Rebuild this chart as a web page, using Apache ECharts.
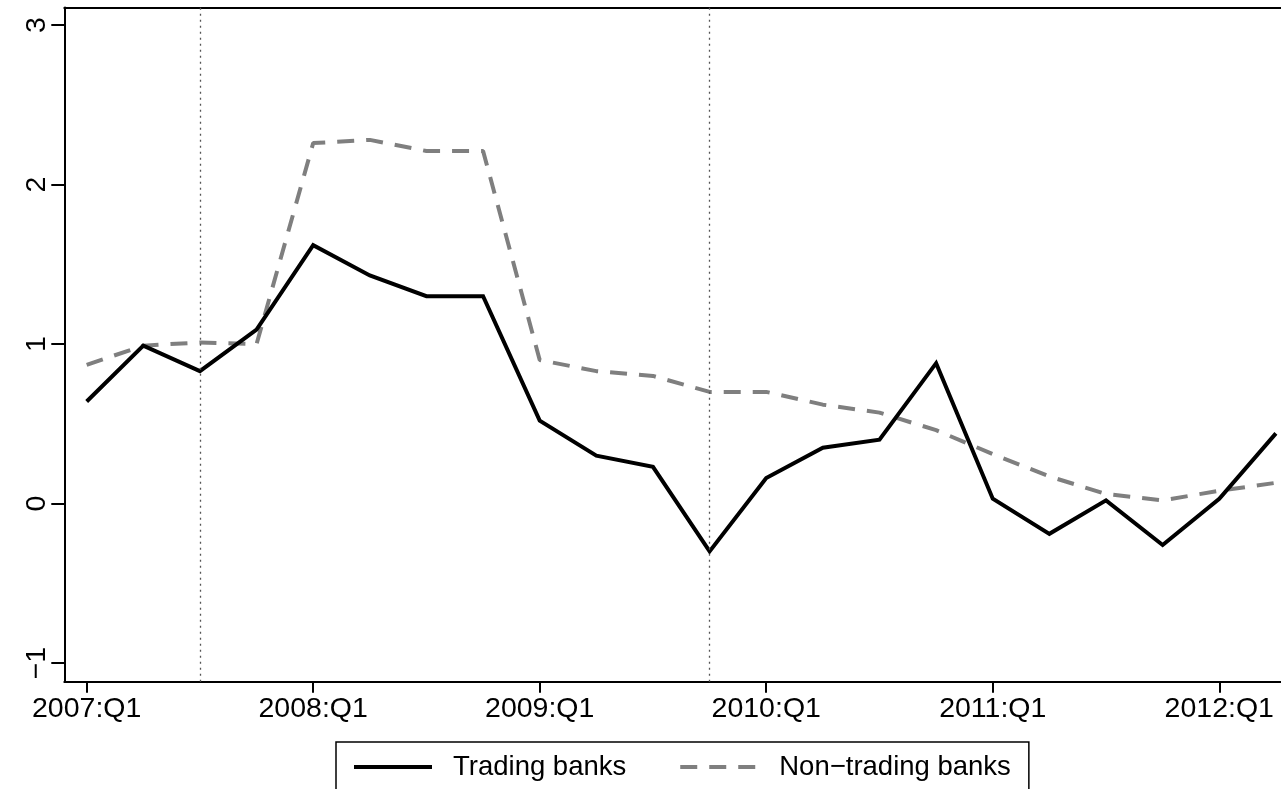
<!DOCTYPE html>
<html>
<head>
<meta charset="utf-8">
<script src="https://cdn.jsdelivr.net/npm/echarts@6/dist/echarts.min.js"></script>
<style>
html,body{margin:0;padding:0;background:#fff;}
#chart{width:1281px;height:789px;}
</style>
</head>
<body>
<div id="chart"></div>
<script>
const quarters = ['2007:Q1','2007:Q2','2007:Q3','2007:Q4','2008:Q1','2008:Q2','2008:Q3','2008:Q4',
  '2009:Q1','2009:Q2','2009:Q3','2009:Q4','2010:Q1','2010:Q2','2010:Q3','2010:Q4',
  '2011:Q1','2011:Q2','2011:Q3','2011:Q4','2012:Q1','2012:Q2'];
const tradingBanks = [0.64, 0.99, 0.83, 1.09, 1.62, 1.43, 1.30, 1.30,
  0.52, 0.30, 0.23, -0.30, 0.16, 0.35, 0.40, 0.88,
  0.03, -0.19, 0.02, -0.26, 0.03, 0.44];
const nonTradingBanks = [0.87, 0.99, 1.01, 1.00, 2.26, 2.28, 2.21, 2.21,
  0.90, 0.83, 0.80, 0.70, 0.70, 0.62, 0.57, 0.46,
  0.31, 0.17, 0.06, 0.02, 0.08, 0.13];
const xTickQuarters = ['2007:Q1','2008:Q1','2009:Q1','2010:Q1','2011:Q1','2012:Q1'];
const yTicks = [-1, 0, 1, 2, 3];
const eventQuarters = ['2007:Q3','2009:Q4'];
const seriesNames = ['Trading banks', 'Non\u2212trading banks'];

const FONT = "'Liberation Sans', Arial, Helvetica, sans-serif";
const BLACK_STYLE = {color: '#000', width: 4, type: 'solid'};
const GRAY_STYLE = {color: '#7f7f7f', width: 4, type: [17, 12]};
const xTickIdx = xTickQuarters.map(q => quarters.indexOf(q));
const toPairs = arr => arr.map((v, i) => [i, v]);

const chart = echarts.init(document.getElementById('chart'), null, {renderer: 'canvas'});
chart.setOption({
  animation: false,
  backgroundColor: '#fff',
  grid: {left: 64.3, top: 7.5, height: 674.2, right: 0, show: false},
  xAxis: [{
    type: 'value', min: -0.395, max: 21.09,
    splitLine: {show: false},
    axisLine: {show: true, onZero: false, lineStyle: {color: '#000', width: 2}},
    axisTick: {show: true, length: 11, lineStyle: {color: '#000', width: 2}, customValues: xTickIdx},
    axisLabel: {
      show: true, customValues: xTickIdx, margin: 13,
      color: '#000', fontFamily: FONT, fontSize: 28.5,
      formatter: v => quarters[Math.round(v)]
    }
  }, {
    type: 'value', position: 'top', min: -0.395, max: 21.09,
    splitLine: {show: false},
    axisLine: {show: true, onZero: false, lineStyle: {color: '#000', width: 2}},
    axisTick: {show: false}, axisLabel: {show: false}
  }],
  yAxis: {
    type: 'value', min: -1.117, max: 3.11,
    splitLine: {show: false},
    axisLine: {show: true, onZero: false, lineStyle: {color: '#000', width: 2}},
    axisTick: {show: true, length: 13, lineStyle: {color: '#000', width: 2}, customValues: yTicks},
    axisLabel: {
      show: true, customValues: yTicks, rotate: 90, margin: 13,
      color: '#000', fontFamily: FONT, fontSize: 28.5,
      formatter: v => String(v).replace('-', '\u2212')
    }
  },
  legend: {
    left: 336, top: 742,
    orient: 'horizontal',
    data: [
      {name: seriesNames[0], lineStyle: BLACK_STYLE},
      {name: seriesNames[1], lineStyle: GRAY_STYLE}
    ],
    itemWidth: 78, itemHeight: 14, itemGap: 52,
    itemStyle: {opacity: 0},
    borderColor: '#000', borderWidth: 1.5,
    padding: [11, 18, 12, 16],
    textStyle: {fontFamily: FONT, fontSize: 27.5, color: '#000', padding: [0, 0, 0, 16]},
    selectedMode: false
  },
  series: [
    {
      name: seriesNames[0], type: 'line', data: toPairs(tradingBanks),
      symbol: 'none', showSymbol: false,
      lineStyle: Object.assign({join: 'miter'}, BLACK_STYLE),
      itemStyle: {color: '#000'},
      z: 3,
      markLine: {
        silent: true, symbol: 'none', label: {show: false},
        lineStyle: {color: '#555', width: 1.3, type: [2, 4]},
        data: eventQuarters.map(q => ({xAxis: quarters.indexOf(q)}))
      }
    },
    {
      name: seriesNames[1], type: 'line', data: toPairs(nonTradingBanks),
      symbol: 'none', showSymbol: false,
      lineStyle: GRAY_STYLE,
      itemStyle: {color: '#7f7f7f'},
      z: 2
    }
  ]
});
</script>
</body>
</html>
